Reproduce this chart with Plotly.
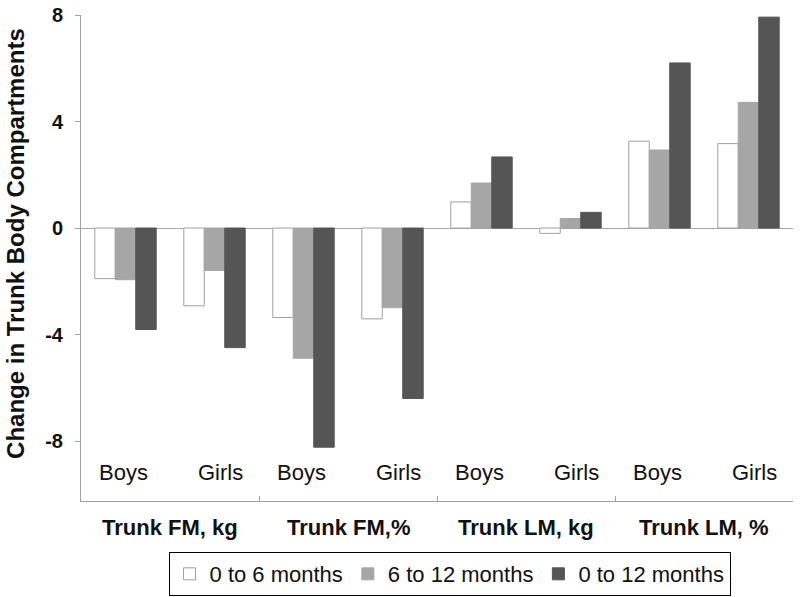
import plotly.graph_objects as go

groups = ["Trunk FM, kg", "Trunk FM,%", "Trunk LM, kg", "Trunk LM, %"]
sexes = ["Boys", "Girls"]
series_names = ["0 to 6 months", "6 to 12 months", "0 to 12 months"]
v0_6 = [-1.90, -2.92, -3.36, -3.41, 0.98, -0.20, 3.26, 3.17]
v6_12 = [-1.94, -1.59, -4.89, -2.99, 1.69, 0.36, 2.93, 4.72]
v0_12 = [-3.81, -4.49, -8.23, -6.40, 2.67, 0.59, 6.20, 7.92]
y_ticks = [-8, -4, 0, 4, 8]

cats = [f"{g} | {s}" for g in groups for s in sexes]
colors = ["#ffffff", "#a6a6a6", "#555555"]
lines = ["#a0a0a0", "#a6a6a6", "#555555"]
FONT = "Liberation Sans, Arial, sans-serif"

fig = go.Figure()
for name, vals, c, lc in zip(series_names, [v0_6, v6_12, v0_12], colors, lines):
    fig.add_trace(go.Bar(x=cats, y=vals, name=name,
                         marker=dict(color=c, line=dict(color=lc, width=1))))

annotations = []
for i, c in enumerate(cats):
    annotations.append(dict(x=c, xref="x", y=0.058, yref="paper", text=sexes[i % 2],
                            showarrow=False, yanchor="middle",
                            xshift=(-2 if i % 2 == 0 else 6),
                            font=dict(size=22, color="#111111", family=FONT)))
for gi, g in enumerate(groups):
    annotations.append(dict(x=2 * gi + 0.5, xref="x", y=-0.0535, yref="paper",
                            text=f"<b>{g}</b>", showarrow=False, yanchor="middle",
                            font=dict(size=22, color="#111111", family=FONT)))
annotations.append(dict(x=0, xref="paper", xshift=-65, xanchor="center",
                        y=0.529, yref="paper", yanchor="middle", textangle=-90,
                        text="<b>Change in Trunk Body Compartments</b>", showarrow=False,
                        font=dict(size=24, color="#111111", family=FONT)))

fig.update_layout(
    width=800, height=597,
    margin=dict(l=81, r=7, t=15, b=96, autoexpand=False),
    paper_bgcolor="white", plot_bgcolor="white",
    font=dict(family=FONT, color="#111111"),
    barmode="group", bargap=0.31, bargroupgap=0,
    showlegend=True,
    legend=dict(orientation="h", x=0.5176, xanchor="center", y=-0.105, yanchor="top",
                bordercolor="#000000", borderwidth=1, bgcolor="white",
                font=dict(size=22, family=FONT), traceorder="normal",
                itemwidth=30),
    annotations=annotations,
    xaxis=dict(type="category", range=[-0.5, 7.5], showline=True, linecolor="#a0a0a0",
               linewidth=1, tickmode="array", tickvals=[1.5, 3.5, 5.5, 7.5],
               ticks="inside", ticklen=5, tickcolor="#a0a0a0", automargin=False,
               showticklabels=False, showgrid=False, zeroline=False, fixedrange=True),
    yaxis=dict(range=[-10.25, 8], tickmode="array", tickvals=y_ticks,
               ticktext=[f"<b>{t}</b>" for t in y_ticks],
               showline=True, linecolor="#a0a0a0", linewidth=1,
               ticks="outside", ticklen=5, tickcolor="#a0a0a0",
               ticklabelstandoff=8, automargin=False,
               tickfont=dict(size=20, family=FONT, color="#111111"),
               showgrid=False, zeroline=True, zerolinecolor="#a8a8a8", zerolinewidth=1),
)

fig.write_html("out.html", config={"displayModeBar": False},
               post_script="document.body.style.margin='0';document.body.style.overflow='hidden';")
